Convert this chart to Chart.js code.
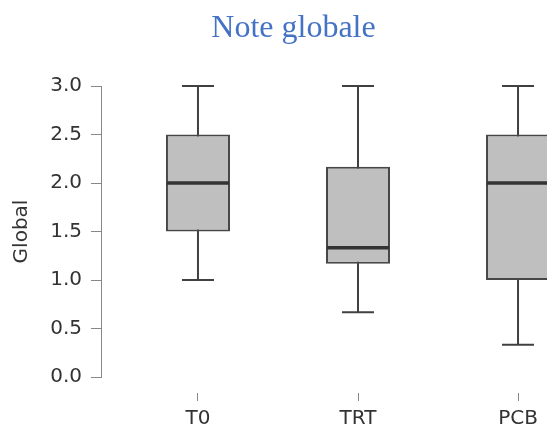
<!DOCTYPE html>
<html>
<head>
<meta charset="utf-8">
<script src="https://cdn.jsdelivr.net/npm/chart.js@4"></script>
<style>
  html, body { margin: 0; padding: 0; background: #fff; overflow: hidden; }
  #wrap { width: 587px; height: 427px; }
</style>
</head>
<body>
<div id="wrap"><canvas id="box" width="587" height="427"></canvas></div>
<script>
// box plot summary per group
const groups  = ['T0', 'TRT', 'PCB'];
const mins    = [1.0, 0.667, 0.333];
const q1s     = [1.5, 1.167, 1.0];
const medians = [2.0, 1.333, 2.0];
const q3s     = [2.5, 2.167, 2.5];
const maxs    = [3.0, 3.0, 3.0];
const yTicks  = [0.0, 0.5, 1.0, 1.5, 2.0, 2.5, 3.0];

Chart.defaults.font.family = 'DejaVu Sans';
Chart.defaults.font.size = 20;
Chart.defaults.color = '#333333';

// whiskers go under the boxes, medians on top
const boxParts = {
    id: 'boxParts',
    beforeDatasetsDraw(chart) {
        const ctx = chart.ctx;
        const y = chart.scales.y;
        const bars = chart.getDatasetMeta(0).data;
        ctx.save();
        ctx.strokeStyle = '#404040';
        ctx.lineWidth = 2;
        bars.forEach((bar, i) => {
            const cap = bar.width / 4;
            const yMin = y.getPixelForValue(mins[i]);
            const yMax = y.getPixelForValue(maxs[i]);
            ctx.beginPath();
            ctx.moveTo(bar.x, yMin);
            ctx.lineTo(bar.x, yMax);
            ctx.moveTo(bar.x - cap, yMin);
            ctx.lineTo(bar.x + cap, yMin);
            ctx.moveTo(bar.x - cap, yMax);
            ctx.lineTo(bar.x + cap, yMax);
            ctx.stroke();
        });
        ctx.restore();
    },
    afterDatasetsDraw(chart) {
        const ctx = chart.ctx;
        const y = chart.scales.y;
        const bars = chart.getDatasetMeta(0).data;
        ctx.save();
        ctx.strokeStyle = '#333333';
        ctx.lineWidth = 3.5;
        bars.forEach((bar, i) => {
            const ym = y.getPixelForValue(medians[i]);
            ctx.beginPath();
            ctx.moveTo(bar.x - bar.width / 2 + 1, ym);
            ctx.lineTo(bar.x + bar.width / 2 - 1, ym);
            ctx.stroke();
        });
        ctx.restore();
    }
};

const ctx_box = document.getElementById('box').getContext('2d');
const boxChart = new Chart(ctx_box, {
    type: 'bar',
    data: {
        datasets: [{
            label: 'Global',
            data: groups.map((g, i) => ({ x: i, y: [q1s[i], q3s[i]] })),
            backgroundColor: '#bfbfbf',
            borderColor: '#474747',
            borderWidth: 2,
            borderSkipped: false,
            categoryPercentage: 0.8,
            barPercentage: 0.5
        }]
    },
    options: {
        responsive: false,
        animation: false,
        layout: { padding: 0 },
        plugins: {
            legend: { display: false },
            tooltip: { enabled: false },
            title: {
                display: true,
                text: 'Note globale',
                color: '#4472c4',
                font: { family: 'Liberation Serif', size: 32, weight: 'normal' },
                padding: { top: 9, bottom: 38.6 }
            }
        },
        scales: {
            x: {
                type: 'linear',
                offset: false,
                min: -0.606,
                max: 2.431,
                afterBuildTicks: s => { s.ticks = groups.map((g, i) => ({ value: i })); },
                afterFit: s => { s.height = 50; },
                border: { display: false },
                grid: {
                    offset: false,
                    drawOnChartArea: false,
                    tickLength: 24,
                    tickColor: '#888888',
                    tickBorderDash: [0, 16, 8]
                },
                ticks: {
                    padding: 6,
                    maxRotation: 0,
                    callback: v => groups[v]
                }
            },
            y: {
                min: 0,
                max: 3,
                afterBuildTicks: s => { s.ticks = yTicks.map(v => ({ value: v })); },
                afterFit: s => { s.width = 101; },
                border: { display: true, color: '#888888', width: 1 },
                grid: {
                    drawOnChartArea: false,
                    tickLength: 10,
                    tickColor: '#888888'
                },
                ticks: {
                    padding: 9,
                    callback: v => v.toFixed(1)
                },
                title: {
                    display: true,
                    text: 'Global',
                    padding: { top: 10, bottom: 4 }
                }
            }
        }
    },
    plugins: [boxParts]
});
</script>
</body>
</html>
